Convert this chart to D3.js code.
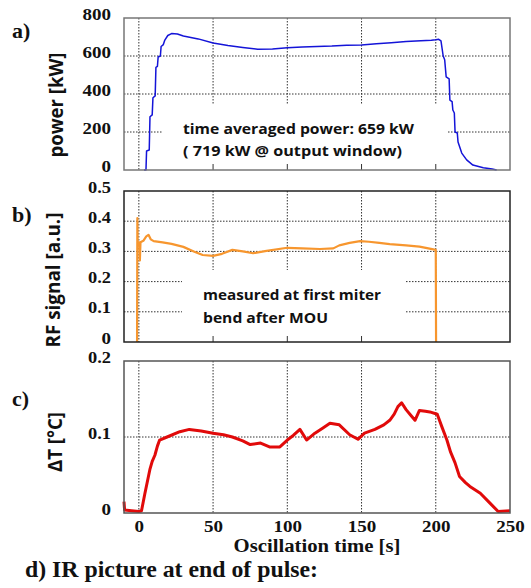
<!DOCTYPE html>
<html>
<head>
<meta charset="utf-8">
<script src="https://cdn.jsdelivr.net/npm/d3@7"></script>
<style>
  body { margin: 0; background: #fff; }
  .serif { font-family: "Liberation Serif", "Times New Roman", serif; font-weight: bold; fill: #111; }
  .sans  { font-family: "Open Sans", "Liberation Sans", sans-serif; font-weight: bold; fill: #111; }
</style>
</head>
<body>
<svg id="fig" width="531" height="588"></svg>
<script>
// values
const timeTicks  = [0, 50, 100, 150, 200, 250];
const powerTicks = [0, 200, 400, 600, 800];
const rfTicks    = [0, 0.1, 0.2, 0.3, 0.4, 0.5];
const dtTicks    = [0, 0.1, 0.2];

// [time s, power kW]
const powerData = [
  [3.5,0],[4.8,0],[5.2,100],[7,105],[7.5,280],[9,290],[9.5,380],[11,390],[11.5,540],[12.5,545],
  [13,595],[14.5,600],[15,650],[16.5,660],[17.5,684],[19.5,708],[22,718],[26,716],[30,705],[40,690],
  [50,668],[60,655],[70,645],[80,636],[90,637],[100,643],[110,648],[120,650],[130,652],[140,656],
  [150,658],[160,665],[170,670],[180,676],[190,680],[197,683],[200,685],[202,688],[203.5,680],[205,600],
  [206,580],[207,490],[209,480],[209.5,368],[211,360],[211.5,316],[212.5,300],[213,200],[214.5,195],[215,147],
  [217.5,89],[220.8,53],[225,26],[232,12],[238,5],[241,0]
];

// [time s, RF signal a.u.]
const rfData = [
  [-1.2,0],[-1,0.41],[-0.8,0.33],[0.4,0.33],[0.7,0.27],[1.1,0.33],[3,0.335],[5,0.35],[6.5,0.355],
  [8,0.34],[10,0.334],[16,0.33],[22,0.325],[30,0.315],[37,0.3],[43,0.288],[50,0.285],[56,0.292],[63,0.305],
  [70,0.3],[77,0.294],[86,0.302],[100,0.312],[110,0.31],[122,0.308],[131,0.31],[135,0.32],[142,0.328],[149,0.334],
  [155,0.332],[162,0.328],[169,0.324],[180,0.32],[189,0.316],[195,0.31],[200,0.305],[200.2,0]
];

// [time s, delta T degC]
const dtData = [
  [-10,0.015],[-9.6,0.004],[-5,0.003],[0,0.002],[1.8,0.003],[4,0.025],[7.4,0.057],[9,0.068],[10.8,0.076],[12.5,0.088],
  [14,0.096],[19,0.1],[27.6,0.107],[34,0.11],[42,0.108],[50,0.105],[57,0.103],[63,0.1],[70,0.095],[75,0.09],
  [82,0.092],[88,0.087],[95,0.087],[100,0.096],[104,0.102],[108.5,0.11],[113,0.096],[118.6,0.105],[124,0.112],[128.7,0.118],
  [135,0.116],[142,0.103],[147.6,0.097],[152,0.105],[159,0.11],[165,0.116],[169,0.122],[172,0.13],[174.5,0.14],[177,0.145],
  [180,0.136],[183,0.129],[186,0.122],[189,0.135],[193,0.134],[196,0.133],[201,0.13],[204,0.114],[207.5,0.096],[210,0.08],
  [213,0.066],[216,0.048],[220,0.04],[223,0.035],[230,0.026],[236.5,0.013],[242,0.002],[250,0.003]
];

const svg = d3.select("#fig");
const left = 124, right = 510;

const x = d3.scaleLinear().domain([-10, 250]).range([left, right]);

// label width, the original is stretched horizontally
const numLen = s => s.replace(".", "").length * 9.5 + (s.includes(".") ? 4 : 0);

const panels = [
  { top: 18, bottom: 170, max: 800, ticks: powerTicks, data: powerData, color: "#1414d8", lw: 1.5,
    frame: "#777", label: "a)", labelY: 38, title: "power [kW]", titleX: 63, titleY: 105, titleLen: 105,
    box: [163, 448, 105], fmt: d => d,
    notes: [["time averaged power: 659 kW", 183, 134, 231], ["( 719 kW @ output window)", 183, 156, 219]] },
  { top: 191, bottom: 342, max: 0.5, ticks: rfTicks, data: rfData, color: "#f7962e", lw: 2.2,
    frame: "#222", label: "b)", labelY: 222, title: "RF signal [a.u.]", titleX: 60, titleY: 280, titleLen: 135,
    box: [182, 405, 270], fmt: d => d === 0 ? "0" : d3.format(".1f")(d),
    notes: [["measured at first miter", 203, 300, 178], ["bend after MOU", 203, 323, 125]] },
  { top: 361, bottom: 513, max: 0.2, ticks: dtTicks, data: dtData, color: "#e10a0a", lw: 3,
    frame: "#555", label: "c)", labelY: 406, title: "ΔT [°C]", titleX: 62, titleY: 442, titleLen: 60,
    box: null, fmt: d => d === 0 ? "0" : d3.format(".1f")(d), notes: [] }
];

panels.forEach((p, pi) => {
  const y = d3.scaleLinear().domain([0, p.max]).range([p.bottom, p.top]);
  const g = svg.append("g");

  // dotted grid
  g.selectAll("line.vg")
    .data(timeTicks.slice(0, -1))
    .join("line")
      .attr("x1", d => x(d)).attr("x2", d => x(d))
      .attr("y1", p.top).attr("y2", p.bottom)
      .style("stroke", "#333").style("stroke-dasharray", "1.5,1.5");
  g.selectAll("line.hg")
    .data(p.ticks.slice(1, -1))
    .join("line")
      .attr("x1", left).attr("x2", right)
      .attr("y1", d => y(d)).attr("y2", d => y(d))
      .style("stroke", "#333").style("stroke-dasharray", "1.5,1.5");

  // white box behind the annotation
  if (p.box) {
    g.append("rect")
      .attr("x", p.box[0]).attr("y", p.box[2])
      .attr("width", p.box[1] - p.box[0]).attr("height", p.bottom - p.box[2])
      .style("fill", "#fff");
    // small inner ticks on the bottom edge
    g.selectAll("line.bt")
      .data(timeTicks.slice(1, -1))
      .join("line")
        .attr("x1", d => x(d)).attr("x2", d => x(d))
        .attr("y1", p.bottom).attr("y2", p.bottom - 6)
        .style("stroke", "#333");
  }

  p.notes.forEach(n => {
    g.append("text").attr("class", "sans")
      .attr("x", n[1]).attr("y", n[2])
      .attr("textLength", n[3]).attr("lengthAdjust", "spacingAndGlyphs")
      .style("font-size", "15px")
      .text(n[0]);
  });

  // data line
  g.append("path")
    .datum(p.data)
    .attr("d", d3.line().x(d => x(d[0])).y(d => y(d[1])))
    .style("fill", "none")
    .style("stroke", p.color)
    .style("stroke-width", p.lw)
    .style("stroke-linejoin", "round");

  // frame
  g.append("rect")
    .attr("x", left).attr("y", p.top)
    .attr("width", right - left).attr("height", p.bottom - p.top)
    .style("fill", "none").style("stroke", p.frame).style("stroke-width", 1.5);

  // y axis labels
  const ya = g.append("g")
    .attr("transform", `translate(${left},0)`)
    .call(d3.axisLeft(y).tickValues(p.ticks).tickSize(0).tickPadding(13).tickFormat(p.fmt));
  ya.select(".domain").remove();
  ya.selectAll("text")
    .attr("class", "serif")
    .attr("y", -4)
    .style("font-size", "16px")
    .attr("textLength", function () { return numLen(this.textContent); })
    .attr("lengthAdjust", "spacingAndGlyphs");

  // panel letter
  g.append("text").attr("class", "serif")
    .attr("x", 12).attr("y", p.labelY)
    .style("font-size", "22px")
    .text(p.label);

  // y title
  g.append("text").attr("class", "sans")
    .attr("transform", `translate(${p.titleX},${p.titleY}) rotate(-90)`)
    .attr("text-anchor", "middle")
    .attr("textLength", p.titleLen).attr("lengthAdjust", "spacingAndGlyphs")
    .style("font-size", "19px")
    .text(p.title);

  // x axis only under the last panel
  if (pi === panels.length - 1) {
    const xa = g.append("g")
      .attr("transform", `translate(0,${p.bottom})`)
      .call(d3.axisBottom(x).tickValues(timeTicks).tickSize(0).tickPadding(8));
    xa.select(".domain").remove();
    xa.selectAll("text")
      .attr("class", "serif")
      .style("font-size", "16px")
      .attr("textLength", function () { return numLen(this.textContent); })
      .attr("lengthAdjust", "spacingAndGlyphs");
  }
});

// x title
svg.append("text").attr("class", "serif")
  .attr("x", (left + right) / 2).attr("y", 552)
  .attr("text-anchor", "middle")
  .attr("textLength", 167).attr("lengthAdjust", "spacingAndGlyphs")
  .style("font-size", "18px")
  .text("Oscillation time [s]");

// caption of the next figure part
svg.append("text").attr("class", "serif")
  .attr("x", 25).attr("y", 577)
  .attr("textLength", 293).attr("lengthAdjust", "spacingAndGlyphs")
  .style("font-size", "24px")
  .text("d) IR picture at end of pulse:");
</script>
</body>
</html>
